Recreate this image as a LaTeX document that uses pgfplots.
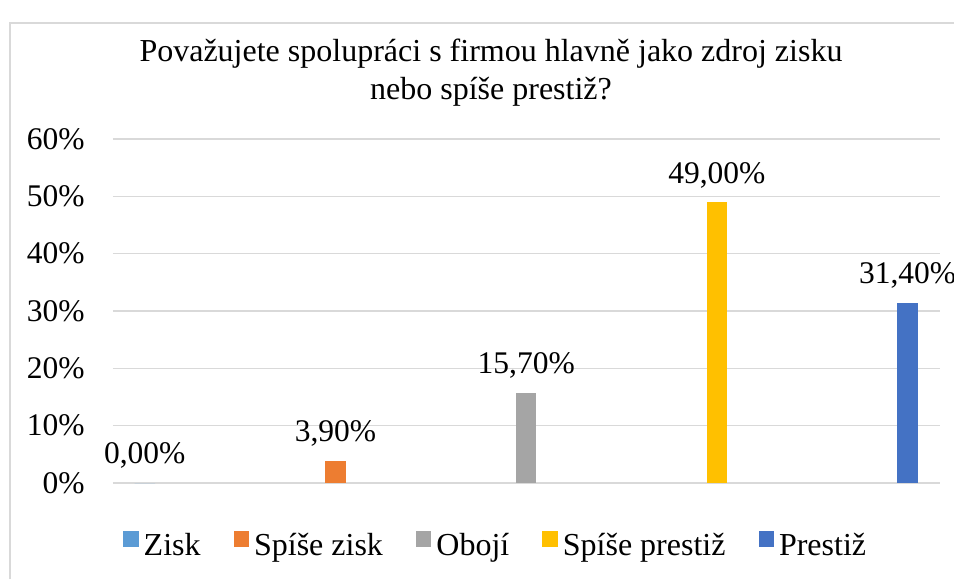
\documentclass[border=0pt]{standalone}
\usepackage{fontspec}
\setmainfont{Liberation Serif}
\usepackage{pgfplots}
\pgfplotsset{compat=1.18}
\definecolor{czisk}{HTML}{5B9BD5}
\definecolor{cspzisk}{HTML}{ED7D31}
\definecolor{coboji}{HTML}{A5A5A5}
\definecolor{csppres}{HTML}{FFC000}
\definecolor{cpres}{HTML}{4472C4}
\definecolor{gridc}{HTML}{D9D9D9}
\newcommand{\ff}{\fontsize{15.75}{18.9}\selectfont}
\newcommand{\tf}{\fontsize{16}{19.2}\selectfont}
\begin{document}
\ff
\begin{tikzpicture}
\path[use as bounding box] (0pt,0pt) rectangle (477pt,289.5pt);
\draw[gridc, line width=0.75pt] (5pt,0pt) -- (5pt,278pt) -- (477pt,278pt);
\node[anchor=base, inner sep=0pt, font=\tf] at (245.5pt,258.7pt) {Považujete spolupráci s firmou hlavně jako zdroj zisku};
\node[anchor=base, inner sep=0pt, font=\tf] at (245.5pt,239.8pt) {nebo spíše prestiž?};
\begin{axis}[
  at={(56.5pt,48pt)}, anchor=south west,
  scale only axis, width=413.5pt, height=172pt,
  xmin=-0.1667, xmax=4.170, ymin=0, ymax=60,
  axis line style={draw=none},
  xtick=\empty,
  ytick={0,10,20,30,40,50,60},
  major tick length=0pt,
  ymajorgrids, grid style={gridc, line width=0.65pt},
  /pgf/number format/assume math mode=true,
  yticklabel={\pgfmathprintnumber{\tick}\%},
  yticklabel style={font=\ff, inner sep=0pt, anchor=east, xshift=-14pt},
  ybar, bar width=10.25pt, bar shift=0pt,
  nodes near coords={\pgfmathprintnumber[fixed,fixed zerofill,precision=2,use comma]{\pgfplotspointmeta}\%},
  every node near coord/.append style={font=\ff, inner sep=0pt, anchor=base, yshift=9.5pt, black},
  legend columns=5,
  legend style={at={(0.4615,-0.183)}, anchor=center, draw=none, fill=none, font=\tf,
    inner sep=0pt, nodes={inner sep=0pt},
    /tikz/every odd column/.append style={column sep=2.5pt},
    /tikz/every even column/.append style={column sep=16.5pt}},
  legend image code/.code={\fill[#1,draw=none] (0pt,0pt) rectangle (7.75pt,7.75pt);},
]
\addplot[fill=czisk, draw=none] coordinates {(0,0)};
\addlegendentry{Zisk}
\addplot[fill=cspzisk, draw=none] coordinates {(1,3.9)};
\addlegendentry{Spíše zisk}
\addplot[fill=coboji, draw=none] coordinates {(2,15.7)};
\addlegendentry{Obojí}
\addplot[fill=csppres, draw=none] coordinates {(3,49.0)};
\addlegendentry{Spíše prestiž}
\addplot[fill=cpres, draw=none] coordinates {(4,31.4)};
\addlegendentry{Prestiž}
\end{axis}
\end{tikzpicture}
\end{document}
